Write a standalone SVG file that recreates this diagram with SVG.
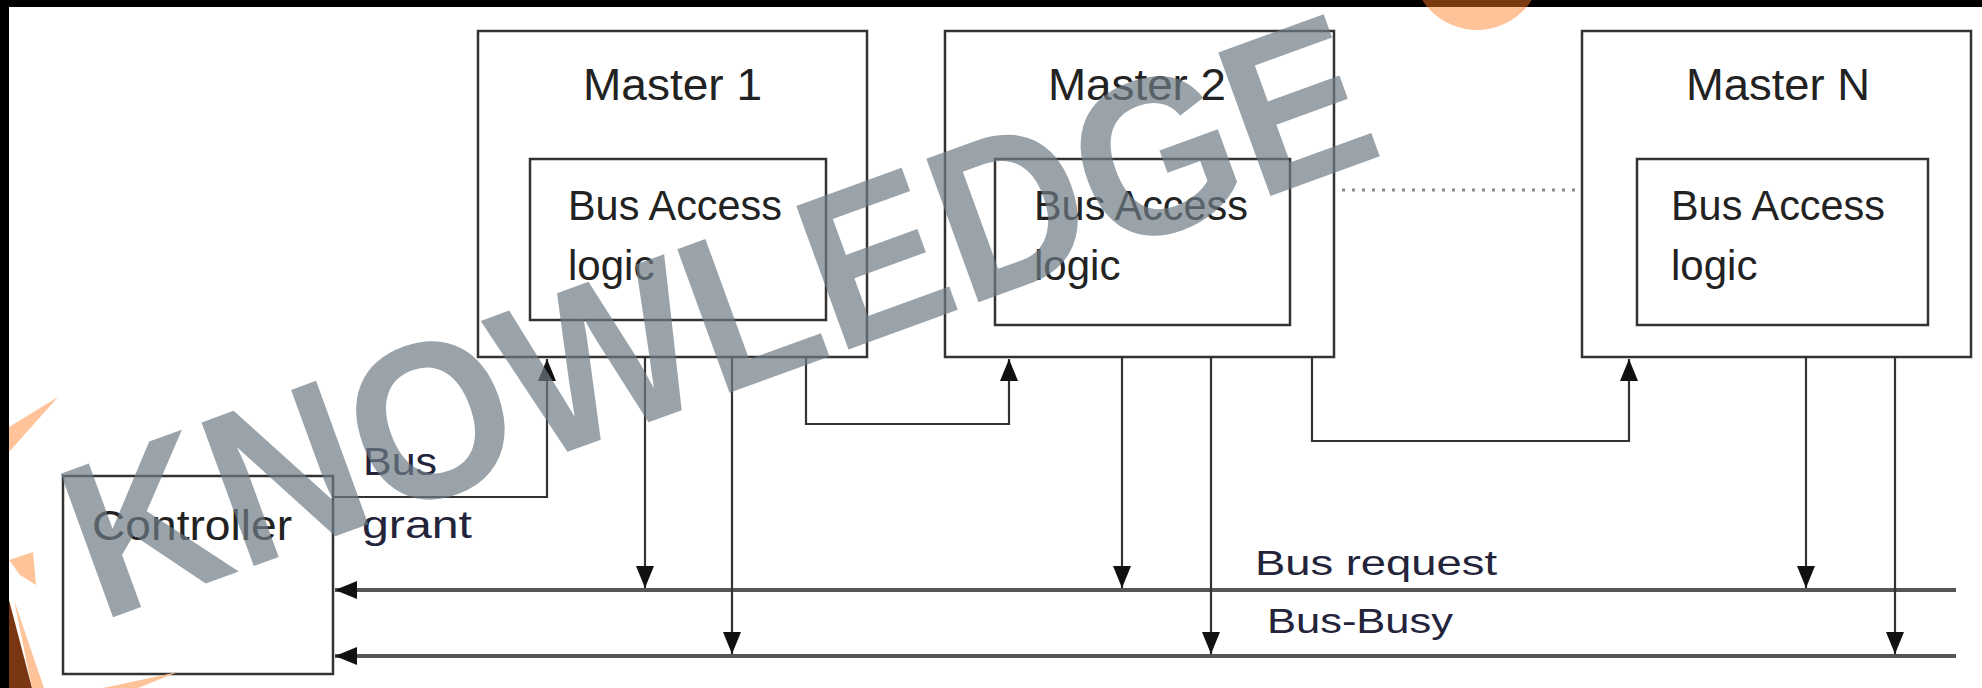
<svg xmlns="http://www.w3.org/2000/svg" width="1982" height="688" viewBox="0 0 1982 688">
<style>
.box{fill:none;stroke:#333;stroke-width:2.5}
.t{font-family:"Liberation Sans",Arial,sans-serif;fill:#222}
.lbl{font-family:"Liberation Sans",Arial,sans-serif;fill:#23233a}
.wire{fill:none;stroke:#333;stroke-width:2.2}
.bus{fill:none;stroke:#555;stroke-width:4}
.wm{font-family:"Liberation Sans",Arial,sans-serif;font-weight:bold;fill:#6f7c84;fill-opacity:0.7}
.or{fill:#ffc39a}
</style>
<defs>
<marker id="arr" markerUnits="userSpaceOnUse" markerWidth="22" markerHeight="18" viewBox="0 0 22 18" refX="22" refY="9" orient="auto">
<path d="M0,0 L22,9 L0,18 z" fill="#111"/>
</marker>
<clipPath id="barclip"><rect x="0" y="0" width="1982" height="7"/></clipPath>
</defs>
<rect width="1982" height="688" fill="#fff"/>

<g id="master1">
<rect class="box" x="478" y="31" width="389" height="326"/>
<text class="t" x="583" y="100" font-size="44" textLength="179" lengthAdjust="spacingAndGlyphs">Master 1</text>
<rect class="box" x="530" y="159" width="296" height="161"/>
<text class="t" x="568" y="220" font-size="42" textLength="214" lengthAdjust="spacingAndGlyphs">Bus Access</text>
<text class="t" x="568" y="280" font-size="42">logic</text>
</g>
<g id="master2">
<rect class="box" x="945" y="31" width="389" height="326"/>
<text class="t" x="1048" y="100" font-size="44" textLength="178" lengthAdjust="spacingAndGlyphs">Master 2</text>
<rect class="box" x="995" y="159" width="295" height="166"/>
<text class="t" x="1034" y="220" font-size="42" textLength="214" lengthAdjust="spacingAndGlyphs">Bus Access</text>
<text class="t" x="1034" y="280" font-size="42">logic</text>
</g>
<g id="masterN">
<rect class="box" x="1582" y="31" width="389" height="326"/>
<text class="t" x="1686" y="100" font-size="44" textLength="184" lengthAdjust="spacingAndGlyphs">Master N</text>
<rect class="box" x="1637" y="159" width="291" height="166"/>
<text class="t" x="1671" y="220" font-size="42" textLength="214" lengthAdjust="spacingAndGlyphs">Bus Access</text>
<text class="t" x="1671" y="280" font-size="42">logic</text>
</g>
<g id="controller">
<rect class="box" x="63" y="476" width="270" height="198"/>
<text class="t" x="92" y="540" font-size="42" textLength="200" lengthAdjust="spacingAndGlyphs">Controller</text>
</g>

<g id="connectors">
<line x1="1342" y1="190" x2="1580" y2="190" stroke="#8a8a8a" stroke-width="3" stroke-dasharray="3 7"/>
<line class="bus" x1="1956" y1="590" x2="335" y2="590" marker-end="url(#arr)"/>
<line class="bus" x1="1956" y1="656" x2="335" y2="656" marker-end="url(#arr)"/>
<path class="wire" d="M333,497 H547 V359" marker-end="url(#arr)"/>
<path class="wire" d="M806,357 V424 H1009 V359" marker-end="url(#arr)"/>
<path class="wire" d="M1312,357 V441 H1629 V359" marker-end="url(#arr)"/>
<line class="wire" x1="645" y1="357" x2="645" y2="588" marker-end="url(#arr)"/>
<line class="wire" x1="732" y1="357" x2="732" y2="654" marker-end="url(#arr)"/>
<line class="wire" x1="1122" y1="357" x2="1122" y2="588" marker-end="url(#arr)"/>
<line class="wire" x1="1211" y1="357" x2="1211" y2="654" marker-end="url(#arr)"/>
<line class="wire" x1="1806" y1="357" x2="1806" y2="588" marker-end="url(#arr)"/>
<line class="wire" x1="1895" y1="357" x2="1895" y2="654" marker-end="url(#arr)"/>
<text class="lbl" x="363" y="475" font-size="38" textLength="74" lengthAdjust="spacingAndGlyphs">Bus</text>
<text class="lbl" x="362" y="538" font-size="38" textLength="110" lengthAdjust="spacingAndGlyphs">grant</text>
<text class="lbl" x="1255" y="575" font-size="35" textLength="242" lengthAdjust="spacingAndGlyphs">Bus request</text>
<text class="lbl" x="1267" y="633" font-size="35" textLength="186" lengthAdjust="spacingAndGlyphs">Bus-Busy</text>
</g>

<g id="watermark">
<text class="wm" x="100" y="622" font-size="222" textLength="1370" lengthAdjust="spacingAndGlyphs" transform="rotate(-20 100 622)">KNOWLEDGE</text>
<circle class="or" cx="1477" cy="-35" r="65"/>
<polygon class="or" points="9,427 58,397 9,452"/>
<polygon class="or" points="9,560 33,552 36,585 20,575"/>
<polygon points="9,600 9,688 32,688" fill="#7a3512"/>
<polygon class="or" points="14,600 44,688 32,688"/>
<polygon class="or" points="103,688 178,672 138,688"/>
</g>
<rect x="0" y="0" width="1982" height="7" fill="#000"/>
<circle cx="1477" cy="-35" r="65" fill="#7a3a10" clip-path="url(#barclip)"/>
<rect x="0" y="0" width="9" height="688" fill="#000"/>
</svg>
